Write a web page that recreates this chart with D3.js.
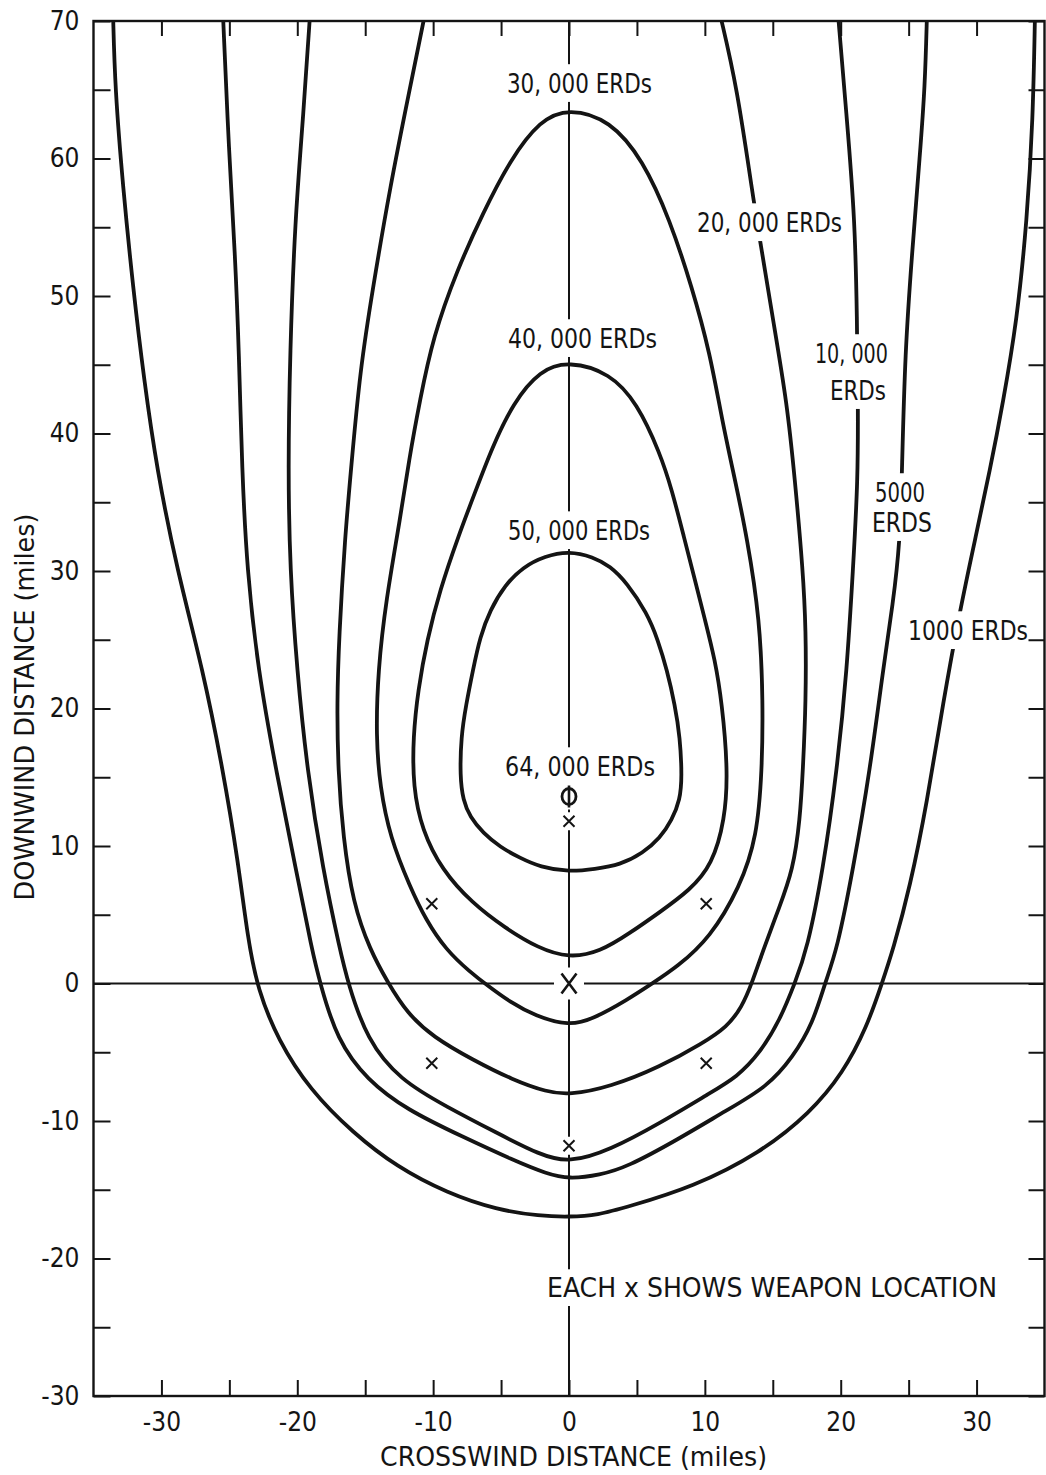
<!DOCTYPE html>
<html>
<head>
<meta charset="utf-8">
<script src="https://cdn.jsdelivr.net/npm/d3@7"></script>
<style>
  html, body { margin: 0; padding: 0; background: #fff; }
  svg { display: block; }
  text { font-family: "Liberation Sans Narrow", "DejaVu Sans Condensed", "Liberation Sans", sans-serif; fill: #141414; }
</style>
</head>
<body>
<svg id="chart" width="1046" height="1475"></svg>
<script>
// ---- axes (miles) ----
const xTickValues = [-30, -20, -10, 0, 10, 20, 30];
const yTickValues = [-30, -20, -10, 0, 10, 20, 30, 40, 50, 60, 70];

// ---- dose contours, [crosswind, downwind] in miles ----
const contour1000 = [[-33.56,70.51],[-33.42,65.16],[-32.83,57.89],[-32.09,50.62],[-31.28,43.89],[-30.33,37.35],[-28.85,30.07],[-26.94,22.80],[-25.47,15.53],[-24.37,8.98],[-23.63,3.16],[-22.90,-0.47],[-21.42,-4.11],[-19.06,-7.75],[-15.90,-10.87],[-12.66,-13.35],[-8.98,-15.24],[-5.30,-16.47],[-2.13,-16.91],[0,-16.98],[2.13,-16.84],[4.27,-16.25],[9.13,-14.80],[14.06,-12.33],[17.74,-9.42],[20.17,-6.51],[21.93,-3.16],[23.04,0.04],[23.85,2.44],[25.10,7.02],[26.35,13.13],[27.53,20.40],[28.78,27.16],[29.88,32.25],[30.99,37.35],[31.94,42.22],[32.98,48.25],[33.71,55.53],[34.15,62.80],[34.30,70.51]];
const contour5000 = [[-25.47,70.51],[-25.03,60.40],[-24.58,53.13],[-24.29,45.85],[-24.07,37.35],[-23.70,30.07],[-22.89,22.80],[-21.57,15.53],[-20.09,8.25],[-18.92,2.44],[-18.33,0.04],[-17.08,-4.11],[-14.87,-7.02],[-11.92,-9.20],[-7.80,-11.16],[-4.12,-12.84],[-1.62,-13.85],[0,-14.22],[2.28,-13.93],[4.27,-13.35],[7.95,-11.38],[11.63,-9.20],[14.57,-7.53],[16.49,-5.35],[17.96,-2.87],[18.84,0.04],[19.73,2.44],[20.90,8.25],[22.16,15.53],[23.11,22.80],[23.85,27.67],[24.36,32.04],[24.51,37.35],[24.73,45.85],[25.25,53.13],[25.84,60.40],[26.20,65.20],[26.35,70.51]];
const contour10000 = [[-19.06,70.51],[-19.58,62.80],[-20.17,55.53],[-20.54,45.85],[-20.68,37.35],[-20.54,30.07],[-20.02,22.80],[-19.28,15.53],[-18.11,8.25],[-16.86,2.44],[-16.27,0.04],[-14.87,-4.11],[-12.44,-7.02],[-8.98,-8.98],[-5.30,-10.87],[-2.13,-12.47],[0,-13.05],[3.02,-12.11],[6.70,-10.15],[10.38,-7.96],[12.37,-6.80],[14.06,-5.05],[15.53,-2.65],[16.63,0.04],[17.52,2.44],[18.70,8.25],[19.73,15.53],[20.46,22.80],[20.90,30.07],[21.27,36.62],[21.27,42.44],[21.20,48.25],[21.05,55.53],[20.46,62.80],[19.80,70.51]];
const contour20000 = [[-10.60,70.51],[-11.70,65.16],[-13.18,57.89],[-14.43,50.62],[-15.38,44.62],[-16.05,37.35],[-16.49,32.47],[-16.93,25.20],[-17.08,20.40],[-17.00,15.53],[-16.63,10.66],[-15.90,5.85],[-14.65,2.44],[-13.32,0.04],[-11.92,-2.15],[-10.01,-3.89],[-7.07,-5.56],[-4.12,-7.02],[-1.62,-7.89],[0,-8.11],[3.02,-7.53],[6.70,-6.07],[9.86,-4.33],[11.63,-3.16],[12.73,-1.71],[13.47,0.04],[14.35,2.58],[15.46,5.49],[16.49,8.25],[17.00,11.89],[17.22,15.53],[17.44,20.62],[17.44,25.71],[17.22,30.07],[16.63,36.62],[16.05,42.22],[15.02,48.25],[14.06,54.07],[13.54,57.20],[12.37,65.20],[11.11,70.51]];
const contour30000 = [[0,63.67],[-2.13,62.80],[-4.34,59.89],[-6.33,56.04],[-8.24,51.89],[-10.01,47.02],[-10.97,42.44],[-11.78,38.07],[-12.44,33.71],[-13.47,27.89],[-14.06,22.80],[-14.21,17.93],[-13.91,14.29],[-13.18,10.66],[-11.70,7.02],[-10.53,4.62],[-9.05,2.44],[-7.29,0.84],[-5.96,-0.18],[-4.34,-1.35],[-2.50,-2.36],[0,-3.09],[1.77,-2.58],[4.27,-1.20],[6.18,0.04],[7.95,1.20],[10.38,3.31],[12.59,7.02],[13.84,10.66],[14.21,15.53],[14.28,20.40],[14.06,26.44],[13.10,32.47],[12.22,36.62],[11.26,40.98],[10.38,45.85],[9.05,50.65],[7.43,55.53],[5.45,59.89],[3.02,62.80]];
const contour40000 = [[0,45.27],[-2.13,44.62],[-4.12,42.22],[-5.67,38.95],[-6.85,35.89],[-8.17,32.47],[-9.50,28.62],[-10.45,24.98],[-11.11,21.35],[-11.48,17.93],[-11.48,14.29],[-10.82,11.16],[-9.35,8.25],[-7.14,5.85],[-4.71,4.04],[-2.28,2.58],[0,1.85],[2.28,2.29],[4.49,3.67],[6.70,5.20],[8.91,6.80],[10.53,8.62],[11.48,11.89],[11.70,15.53],[11.26,20.40],[10.75,23.53],[10.01,26.44],[9.27,29.35],[8.46,32.47],[7.58,35.89],[6.70,38.58],[5.01,42.22],[3.02,44.40]];
const contour50000 = [[0,31.45],[-1.77,31.09],[-3.39,30.29],[-4.71,28.98],[-5.81,27.16],[-6.55,25.20],[-7.07,22.80],[-7.58,20.25],[-7.95,17.93],[-8.02,15.02],[-7.80,13.35],[-7.29,12.11],[-6.33,10.95],[-5.08,9.93],[-3.61,9.13],[-2.13,8.47],[0,8.11],[1.91,8.33],[3.75,8.62],[5.45,9.49],[6.70,10.58],[7.58,11.89],[8.17,13.35],[8.32,15.02],[8.17,17.93],[7.80,20.25],[7.21,22.80],[6.55,24.98],[5.74,26.95],[4.27,29.13],[3.02,30.36],[1.77,31.02]];

// ---- peak dose point and weapon (burst) locations, miles ----
const peakPoint = [0, 13.6];
const weaponSites = [[0,0],[0,11.8],[-10.1,5.8],[10.1,5.8],[-10.1,-5.8],[10.1,-5.8],[0,-11.8]];

// ---- contour labels: text lines anchored at [crosswind, downwind] ----
const contourLabels = [
  { text: "30, 000 ERDs", x: 0.77,  y: 64.77 },
  { text: "20, 000 ERDs", x: 14.76, y: 54.65 },
  { text: "40, 000 ERDs", x: 0.99,  y: 46.22 },
  { text: "10, 000",      x: 20.79, y: 45.13 },
  { text: "ERDs",         x: 21.27, y: 42.44 },
  { text: "5000",         x: 24.36, y: 35.02 },
  { text: "ERDS",         x: 24.51, y: 32.84 },
  { text: "50, 000 ERDs", x: 0.74,  y: 32.25 },
  { text: "1000 ERDs",    x: 29.37, y: 24.98 },
  { text: "64, 000 ERDs", x: 0.81,  y: 15.09 }
];
const noteText = "EACH x SHOWS WEAPON LOCATION";
const xTitle = "CROSSWIND DISTANCE (miles)";
const yTitle = "DOWNWIND DISTANCE (miles)";

// ---------------- drawing ----------------
const FONT = 26;
const INK = "#141414";
const frame = { left: 93.5, right: 1044.5, top: 21, bottom: 1396 };
const labelWidths = {
  "30, 000 ERDs": 145, "20, 000 ERDs": 145, "40, 000 ERDs": 149, "50, 000 ERDs": 142,
  "64, 000 ERDs": 150, "10, 000": 73, "ERDs": 56, "5000": 50, "ERDS": 60, "1000 ERDs": 120
};

const svg = d3.select("#chart");
svg.append("rect").attr("width", 1046).attr("height", 1475).attr("fill", "#fff");

const x = d3.scaleLinear().domain([-35, 35]).range([frame.left, frame.right]);
const y = d3.scaleLinear().domain([-30, 70]).range([frame.bottom, frame.top]);

svg.append("defs").append("clipPath").attr("id", "plot-area")
  .append("rect")
  .attr("x", frame.left).attr("y", frame.top)
  .attr("width", frame.right - frame.left).attr("height", frame.bottom - frame.top);

const plot = svg.append("g").attr("clip-path", "url(#plot-area)");

// reference lines through ground zero
plot.append("line")
  .attr("x1", x(-35)).attr("x2", x(35)).attr("y1", y(0)).attr("y2", y(0))
  .attr("stroke", INK).attr("stroke-width", 2);
plot.append("line")
  .attr("x1", x(0)).attr("x2", x(0)).attr("y1", y(70)).attr("y2", y(-30))
  .attr("stroke", INK).attr("stroke-width", 2);

// contours (smooth B-splines through the traced points)
const openPath = d3.line().x(d => x(d[0])).y(d => y(d[1])).curve(d3.curveBasis);
const closedPath = d3.line().x(d => x(d[0])).y(d => y(d[1])).curve(d3.curveBasisClosed);
const contours = [
  { pts: contour1000, closed: false },
  { pts: contour5000, closed: false },
  { pts: contour10000, closed: false },
  { pts: contour20000, closed: false },
  { pts: contour30000, closed: true },
  { pts: contour40000, closed: true },
  { pts: contour50000, closed: true }
];
plot.selectAll("path.contour").data(contours).join("path")
  .attr("class", "contour")
  .attr("d", c => (c.closed ? closedPath : openPath)(c.pts))
  .attr("fill", "none").attr("stroke", INK).attr("stroke-width", 3.8)
  .attr("stroke-linejoin", "round");

// labels, each on a white knockout that breaks the lines under it
const capH = FONT * 0.72;
const labelLayer = svg.append("g");
contourLabels.forEach(l => {
  const g = labelLayer.append("g");
  const t = g.append("text")
    .attr("x", x(l.x)).attr("y", y(l.y))
    .attr("text-anchor", "middle").attr("font-size", FONT)
    .text(l.text);
  if (labelWidths[l.text]) t.attr("textLength", labelWidths[l.text]).attr("lengthAdjust", "spacingAndGlyphs");
  const bb = t.node().getBBox();
  g.insert("rect", "text")
    .attr("x", bb.x - 4).attr("width", bb.width + 8)
    .attr("y", y(l.y) - capH - 10).attr("height", capH + 19)
    .attr("fill", "#fff");
});

// note
{
  const g = labelLayer.append("g");
  const t = g.append("text")
    .attr("x", x(-1.62)).attr("y", y(-22.8))
    .attr("font-size", FONT)
    .attr("textLength", 450).attr("lengthAdjust", "spacingAndGlyphs")
    .text(noteText);
  const bb = t.node().getBBox();
  g.insert("rect", "text")
    .attr("x", bb.x - 4).attr("width", bb.width + 8)
    .attr("y", y(-22.8) - capH - 9).attr("height", capH + 18)
    .attr("fill", "#fff");
}

// weapon locations
const marks = svg.append("g");
weaponSites.forEach(d => {
  const cx = x(d[0]), cy = y(d[1]);
  const big = d[0] === 0 && d[1] === 0;
  const hw = big ? 7.5 : 5.5, hh = big ? 10 : 5.5;
  if (d[0] === 0) {
    marks.append("rect")
      .attr("x", cx - (big ? 15 : 8)).attr("y", cy - (big ? 16 : 9))
      .attr("width", big ? 30 : 16).attr("height", big ? 32 : 18)
      .attr("fill", "#fff");
  }
  marks.append("path")
    .attr("d", `M${cx - hw},${cy - hh}L${cx + hw},${cy + hh}M${cx - hw},${cy + hh}L${cx + hw},${cy - hh}`)
    .attr("stroke", INK).attr("stroke-width", big ? 2.6 : 2).attr("fill", "none");
});

// peak dose point
{
  const cx = x(peakPoint[0]), cy = y(peakPoint[1]);
  marks.append("rect").attr("x", cx - 11).attr("y", cy - 13).attr("width", 22).attr("height", 26).attr("fill", "#fff");
  marks.append("ellipse").attr("cx", cx).attr("cy", cy).attr("rx", 7).attr("ry", 8)
    .attr("fill", "none").attr("stroke", INK).attr("stroke-width", 2.8);
  marks.append("line").attr("x1", cx).attr("x2", cx).attr("y1", cy - 11).attr("y2", cy + 11)
    .attr("stroke", INK).attr("stroke-width", 2.6);
}

// axes: inward ticks every 5 miles on all four sides
const fmt = d => (d < 0 ? "-" + Math.abs(d) : String(d));
const xTicks = d3.range(-30, 31, 5);
const yTicks = d3.range(-30, 71, 5);

function styleAxis(g) {
  g.select(".domain").remove();
  g.attr("font-size", FONT).attr("font-family", null);
  g.selectAll(".tick line").attr("stroke", INK).attr("stroke-width", 2);
  g.selectAll(".tick text").attr("fill", INK);
}

svg.append("g").attr("transform", `translate(0,${frame.bottom})`)
  .call(d3.axisBottom(x).tickValues(xTicks).tickSize(-16).tickPadding(17)
    .tickFormat(d => (xTickValues.includes(d) ? fmt(d) : "")))
  .call(styleAxis);
svg.append("g").attr("transform", `translate(0,${frame.top})`)
  .call(d3.axisTop(x).tickValues(xTicks).tickSize(-15).tickFormat(""))
  .call(styleAxis);
svg.append("g").attr("transform", `translate(${frame.left},0)`)
  .call(d3.axisLeft(y).tickValues(yTicks).tickSize(-17).tickPadding(14)
    .tickFormat(d => (yTickValues.includes(d) ? fmt(d) : "")))
  .call(styleAxis);
svg.append("g").attr("transform", `translate(${frame.right},0)`)
  .call(d3.axisRight(y).tickValues(yTicks).tickSize(-16).tickFormat(""))
  .call(styleAxis);

// frame
svg.append("rect")
  .attr("x", frame.left).attr("y", frame.top)
  .attr("width", frame.right - frame.left).attr("height", frame.bottom - frame.top)
  .attr("fill", "none").attr("stroke", INK).attr("stroke-width", 2.4);

// axis titles
svg.append("text")
  .attr("x", 573.5).attr("y", 1466)
  .attr("text-anchor", "middle").attr("font-size", FONT)
  .attr("textLength", 387).attr("lengthAdjust", "spacingAndGlyphs")
  .text(xTitle);
svg.append("text")
  .attr("transform", "translate(34,707) rotate(-90)")
  .attr("text-anchor", "middle").attr("font-size", FONT)
  .attr("textLength", 387).attr("lengthAdjust", "spacingAndGlyphs")
  .text(yTitle);
</script>
</body>
</html>
